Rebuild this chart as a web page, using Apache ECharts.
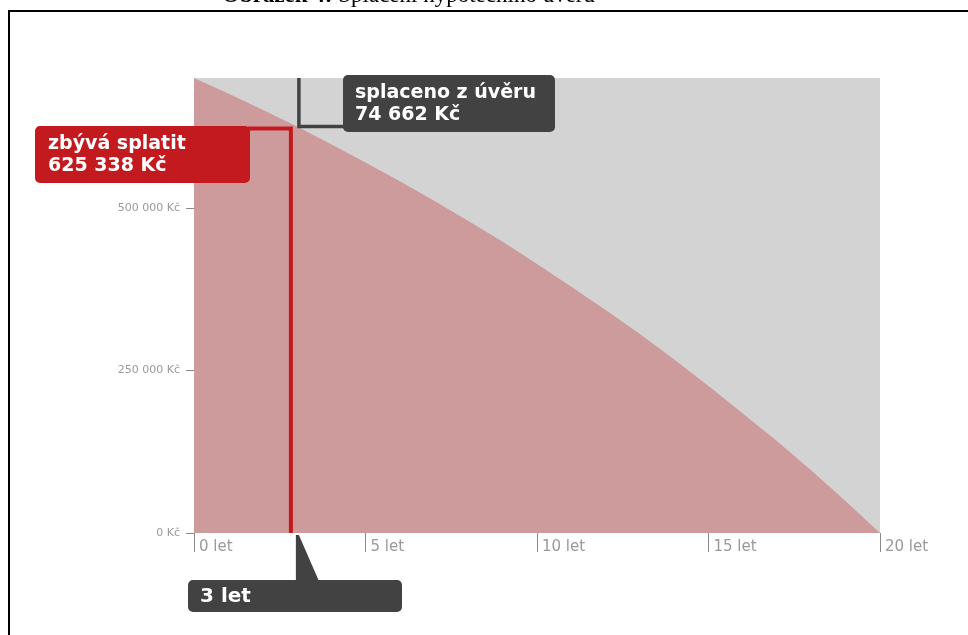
<!DOCTYPE html>
<html><head><meta charset="utf-8">
<script src="https://cdn.jsdelivr.net/npm/echarts@6/dist/echarts.min.js"></script>
<style>html,body{margin:0;padding:0;background:#fff;overflow:hidden}#c{width:968px;height:635px}</style>
</head><body><div id="c"></div>
<script>
const titleBold = 'Obrázek 4:';
const titleRest = ' Splacení hypotečního úvěru';
const years = [0,1,2,3,4,5,6,7,8,9,10,11,12,13,14,15,16,17,18,19,20];
const balance = [700000,676000,651000,625338,598000,570000,541000,511000,480000,448000,414000,379000,343000,306000,267000,226000,184000,141000,96000,49000,0];
const xTicks = [0,5,10,15,20];
const yTicks = [0,250000,500000];
const loanTotal = 700000;
const markYear = 3;
const remaining = 625338;
const paid = 74662;
const remainingLabel = ['zbývá splatit','625 338 Kč'];
const paidLabel = ['splaceno z úvěru','74 662 Kč'];
const yearLabel = '3 let';

function fmtKc(v){ return String(v).replace(/\B(?=(\d{3})+(?!\d))/g,' ') + ' Kč'; }

const RED = '#c21a1e', DARK = '#424242';
const chart = echarts.init(document.getElementById('c'), null, {renderer:'canvas'});
chart.setOption({
  animation:false,
  grid:{left:194, right:88, top:78, bottom:102, show:true, backgroundColor:'#d3d3d3', borderWidth:0},
  xAxis:{type:'value', min:0, max:20, interval:5, axisLine:{show:false}, splitLine:{show:false},
    axisTick:{show:true, length:19, customValues:xTicks, lineStyle:{color:'#8a8a8a'}},
    axisLabel:{customValues:xTicks, formatter: v=> v+' let', align:'left', padding:[0,0,0,5], margin:7, color:'#999', fontFamily:'DejaVu Sans', fontSize:15}},
  yAxis:{type:'value', min:0, max:loanTotal, interval:250000, axisLine:{show:false}, splitLine:{show:false},
    axisTick:{show:true, length:8, customValues:yTicks, lineStyle:{color:'#8a8a8a'}},
    axisLabel:{customValues:yTicks, formatter: fmtKc, margin:14, color:'#999', fontFamily:'DejaVu Sans', fontSize:11}},
  series:[{type:'line', data: years.map((y,i)=>[y,balance[i]]), symbol:'none', silent:true,
    lineStyle:{width:0, opacity:0}, areaStyle:{color:'#cd9b9b', opacity:1}}]
});

const p = chart.convertToPixel({gridIndex:0}, [markYear, remaining]);
const pTop = chart.convertToPixel({gridIndex:0}, [markYear, loanTotal]);
const p0 = chart.convertToPixel({gridIndex:0}, [markYear, 0]);
const fontB = 'bold 19px "DejaVu Sans"';
const Z = 100;

chart.setOption({graphic:[
  // document frame
  {type:'line', z:Z, shape:{x1:8, y1:11, x2:968, y2:11}, style:{stroke:'#000', lineWidth:2}},
  {type:'line', z:Z, shape:{x1:9, y1:10, x2:9, y2:635}, style:{stroke:'#000', lineWidth:2}},
  {type:'text', z:Z, style:{text:'{b|'+titleBold+'}{n|'+titleRest+'}', x:222, y:-4, textVerticalAlign:'middle', fill:'#000',
    rich:{b:{font:'bold 23px "Liberation Serif"', fill:'#000'}, n:{font:'23px "Liberation Serif"', fill:'#000'}}}},
  // red remaining
  {type:'polyline', z:Z, shape:{points:[[248, p[1]+2],[p[0]-6, p[1]+2],[p[0]-6, p0[1]]]}, style:{stroke:RED, lineWidth:4, fill:null}},
  {type:'rect', z:Z+1, shape:{x:35, y:p[1]-0.5, width:215, height:57, r:5}, style:{fill:RED}},
  {type:'text', z:Z+2, style:{text:remainingLabel[0], x:48, y:p[1]+18, textVerticalAlign:'middle', fill:'#fff', font:fontB}},
  {type:'text', z:Z+2, style:{text:remainingLabel[1], x:48, y:p[1]+40, textVerticalAlign:'middle', fill:'#fff', font:fontB}},
  // dark paid
  {type:'polyline', z:Z, shape:{points:[[p[0]+2, pTop[1]],[p[0]+2, p[1]],[345, p[1]]]}, style:{stroke:DARK, lineWidth:3.5, fill:null}},
  {type:'rect', z:Z+1, shape:{x:343, y:75, width:212, height:57, r:5}, style:{fill:DARK}},
  {type:'text', z:Z+2, style:{text:paidLabel[0], x:355, y:93, textVerticalAlign:'middle', fill:'#fff', font:fontB}},
  {type:'text', z:Z+2, style:{text:paidLabel[1], x:355, y:115, textVerticalAlign:'middle', fill:'#fff', font:fontB}},
  // year pointer
  {type:'polygon', z:Z, shape:{points:[[p0[0]-1, p0[1]+2],[p0[0]+2, p0[1]+2],[p0[0]+22, 581],[p0[0]-1, 581]]}, style:{fill:DARK}},
  {type:'rect', z:Z+1, shape:{x:188, y:580, width:214, height:32, r:5}, style:{fill:DARK}},
  {type:'text', z:Z+2, style:{text:yearLabel, x:200, y:597, textVerticalAlign:'middle', fill:'#fff', font:'bold 20px "DejaVu Sans"'}}
]});
</script></body></html>
